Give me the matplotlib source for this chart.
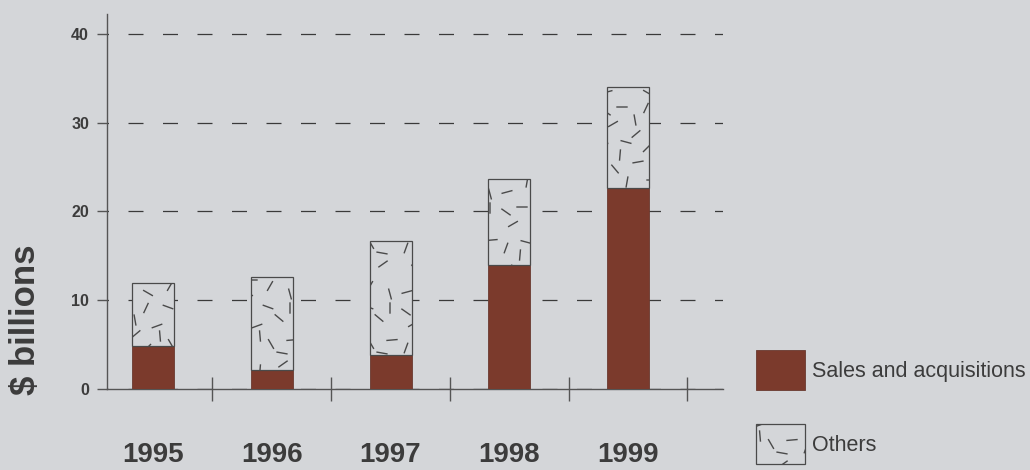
import numpy as np
import matplotlib
matplotlib.use("Agg")
import matplotlib.pyplot as plt
from matplotlib import hatch as mhatch
from matplotlib.path import Path

# ---- data ----
years = ["1995", "1996", "1997", "1998", "1999"]
sales_acq = [4.9, 2.1, 3.8, 14.0, 22.7]
others = [7.0, 10.5, 12.9, 9.7, 11.3]
yticks = [0, 10, 20, 30, 40]
legend_labels = ["Sales and acquisitions", "Others"]

BG = "#d4d6d9"
BROWN = "#7b3a2c"
INK = "#3c3c3c"

# ---- custom "scattered dash" hatch texture ----
_DASHES = [  # (cx, cy, angle) within the unit hatch cell
    (0.07, 0.08, 15), (0.27, 0.18, 80), (0.48, 0.07, -30), (0.70, 0.14, 60),
    (0.90, 0.06, -75), (0.15, 0.31, -50), (0.38, 0.38, 10), (0.60, 0.30, 85),
    (0.83, 0.36, 35), (0.06, 0.52, 70), (0.26, 0.58, -15), (0.47, 0.52, 45),
    (0.71, 0.56, -60), (0.92, 0.60, 5), (0.13, 0.76, 30), (0.35, 0.80, -80),
    (0.57, 0.74, 20), (0.79, 0.82, -40), (0.22, 0.93, 0), (0.46, 0.92, 65),
    (0.68, 0.93, -20), (0.90, 0.92, 90), (0.52, 0.20, 0), (0.20, 0.45, 85),
    (0.82, 0.47, -10), (0.60, 0.64, -85), (0.06, 0.88, -35), (0.36, 0.66, 40),
]


class ScatterDashHatch(mhatch.HatchPatternBase):
    def __init__(self, hatch, density):
        self.num_vertices = 2 * len(_DASHES) if "." in hatch else 0

    def set_vertices_and_codes(self, vertices, codes):
        half = 0.05
        for k, (cx, cy, ang) in enumerate(_DASHES):
            a = np.deg2rad(ang)
            dx, dy = half * np.cos(a), half * np.sin(a)
            vertices[2 * k] = (cx - dx, cy - dy)
            vertices[2 * k + 1] = (cx + dx, cy + dy)
            codes[2 * k] = Path.MOVETO
            codes[2 * k + 1] = Path.LINETO


mhatch._hatch_types = [ScatterDashHatch]

plt.rcParams["font.family"] = ["Liberation Sans", "DejaVu Sans"]
plt.rcParams["hatch.linewidth"] = 1.0
plt.rcParams["hatch.color"] = INK

fig = plt.figure(figsize=(10.3, 4.7), dpi=100, facecolor=BG)
ax = fig.add_axes([0.1039, 0.1723, 0.598, 0.798])
ax.set_facecolor(BG)

x = np.arange(len(years))
w = 0.354
ax.bar(x, sales_acq, width=w, color=BROWN, edgecolor="#6a3a30", linewidth=0.6,
       zorder=3, label=legend_labels[0])
ax.bar(x, others, width=w, bottom=sales_acq, color=BG, edgecolor="#4a4a4a",
       linewidth=0.9, hatch=".", zorder=3, label=legend_labels[1])

ax.set_xlim(-0.388, 4.80)
ax.set_ylim(0, 42.25)

for s in ["top", "right"]:
    ax.spines[s].set_visible(False)
for s in ["left", "bottom"]:
    ax.spines[s].set_color("#555555")
    ax.spines[s].set_linewidth(1.0)

ax.set_yticks(yticks)
ax.set_yticklabels([str(v) for v in yticks], fontsize=11.5, fontweight="bold",
                   color=INK)
ax.tick_params(axis="y", direction="out", length=7, width=1.0, color="#555555",
               pad=6)
ax.yaxis.grid(True, linestyle=(10.8, (12.0, 15.6)), color="#3a3a3a",
              linewidth=0.9, zorder=1)
ax.set_axisbelow(True)

# boundary ticks between bars, labels at bar centers
ax.set_xticks(x + 0.5)
ax.set_xticklabels([])
ax.tick_params(axis="x", which="major", direction="inout", length=17, width=1.0,
               color="#555555")
ax.set_xticks(x, minor=True)
ax.set_xticklabels(years, minor=True, fontsize=20, fontweight="bold", color=INK)
ax.tick_params(axis="x", which="minor", length=0, pad=38)

fig.text(25 / 1030, 1 - 320 / 470, "$ billions", rotation=90, ha="center",
         va="center", fontsize=25, fontweight="bold", color=INK)

leg = ax.legend(loc="upper left", bbox_to_anchor=(756 / 1030, 1 - 350 / 470),
                bbox_transform=fig.transFigure, frameon=False, fontsize=15.5,
                handlelength=2.28, handleheight=2.48, labelspacing=1.58,
                handletextpad=0.33, borderpad=0, borderaxespad=0)
for t in leg.get_texts():
    t.set_color(INK)

fig.savefig("out.png", dpi=100, facecolor=BG)
